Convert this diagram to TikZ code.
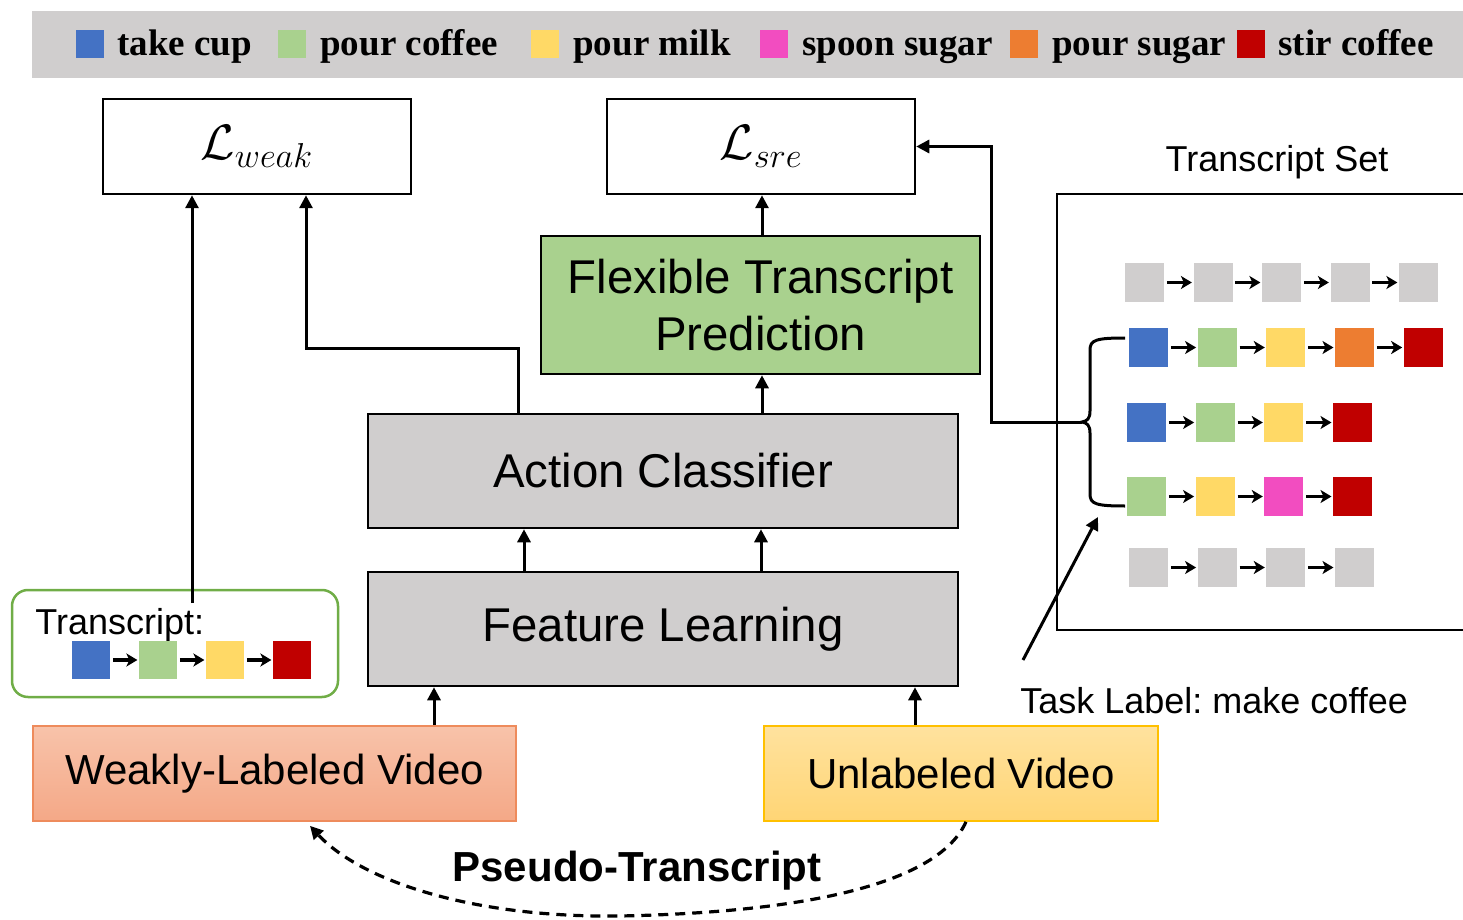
\documentclass[tikz,border=0pt]{standalone}
\usepackage{fontspec}
\setmainfont{Liberation Sans}
\newfontfamily\legendfont{Liberation Serif}
\usetikzlibrary{arrows.meta,calc}
\frenchspacing

\definecolor{boxgray}{HTML}{D0CECE}
\definecolor{actblue}{HTML}{4472C4}
\definecolor{actgreen}{HTML}{A9D18E}
\definecolor{actyellow}{HTML}{FFD966}
\definecolor{actpink}{HTML}{F24DC0}
\definecolor{actorange}{HTML}{ED7D31}
\definecolor{actred}{HTML}{C00000}
\definecolor{frame green}{HTML}{70AD47}
\definecolor{weaktop}{HTML}{F8C3AA}
\definecolor{weakbot}{HTML}{F4A887}
\definecolor{weakline}{HTML}{EE8B5C}
\definecolor{unltop}{HTML}{FFE29E}
\definecolor{unlbot}{HTML}{FFD575}
\definecolor{unlline}{HTML}{FFC000}

% one chain of coloured action squares joined by short arrows
% #1 name prefix, #2 left edge, #3 top edge, #4 pitch, #5 side, #6 colours
\newcommand\seqrow[6]{%
  \foreach \c [count=\i, remember=\i as \p (initially 0)] in {#6} {
    \node[sq, minimum size=#5*0.5pt, fill=\c] (#1\i) at ({#2+#5/2+(\i-1)*#4},{#3+#5/2}) {};
    \ifnum\i>1 \draw[chain] (#1\p) -- (#1\i); \fi
  }}

\begin{document}
\begin{tikzpicture}[x=0.5pt,y=-0.5pt,
  boxed/.style={draw, line width=1.25pt, inner sep=0pt, align=center},
  lossbox/.style={boxed, minimum width=154pt, minimum height=47.5pt,
    font=\fontsize{26}{30}\selectfont},
  stage/.style={boxed, fill=boxgray, minimum width=295pt, minimum height=57pt,
    font=\fontsize{23.7}{28.5}\selectfont},
  video/.style={draw, line width=0.8pt, inner sep=0pt, minimum height=47.5pt,
    font=\fontsize{21}{25}\selectfont},
  flow/.style={line width=1.5pt, -{Triangle[length=6.5pt,width=6.5pt]}},
  chain/.style={line width=1.6pt, shorten <=1.2pt, shorten >=0.6pt,
    -{Stealth[length=5.5pt,width=6.5pt,inset=1.5pt]}},
  sq/.style={draw=none, inner sep=0pt},
  key/.style={draw=none, inner sep=0pt, minimum size=14pt},
  keytext/.style={anchor=base west, inner sep=0pt,
    font=\legendfont\bfseries\fontsize{18.5}{22}\selectfont},
  label/.style={inner sep=0pt, font=\fontsize{18}{22}\selectfont}]

\useasboundingbox (0,0) rectangle (1463,920);

% legend bar
\fill[boxgray] (32,11) rectangle (1463,78);
\node[key, fill=actblue]   (k1) at (90,44) {};
\node[keytext] (kt1) at (117,56) {take cup};
\node[key, fill=actgreen]  (k2) at (292,44) {};
\node[keytext] (kt2) at (320,56) {pour coffee};
\node[key, fill=actyellow] (k3) at (545,44) {};
\node[keytext] (kt3) at (573,56) {pour milk};
\node[key, fill=actpink]   (k4) at (774,44) {};
\node[keytext] (kt4) at (802,56) {spoon sugar};
\node[key, fill=actorange] (k5) at (1024,44) {};
\node[keytext] (kt5) at (1052,56) {pour sugar};
\node[key, fill=actred]    (k6) at (1251,44) {};
\node[keytext] (kt6) at (1278,56) {stir coffee};

% losses
\node[lossbox] (lw) at (257,146.5) {$\mathcal{L}_{weak}$};
\node[lossbox] (ls) at (761,146.5) {$\mathcal{L}_{sre}$};

% network stages
\node[boxed, fill=actgreen, minimum width=219.5pt, minimum height=69pt,
  font=\fontsize{23.7}{28.5}\selectfont] (fp) at (760.5,305)
  {Flexible Transcript\\Prediction};
\node[stage] (ac) at (663,471) {Action Classifier};
\node[stage] (fe) at (663,629) {Feature Learning};

% input videos
\node[video, top color=weaktop, bottom color=weakbot, draw=weakline,
  minimum width=241.5pt] (wv) at (274.5,773.5) {Weakly-Labeled Video};
\node[video, top color=unltop, bottom color=unlbot, draw=unlline,
  minimum width=197pt] (uv) at (961,773.5) {Unlabeled Video};

% ground-truth transcript of the weakly-labeled video
\node[draw=frame green, line width=1.25pt, rounded corners=8pt,
  minimum width=163pt, minimum height=53.5pt] (tb) at (175,643.5) {};
\node[label, anchor=base west] (tl) at (35,634) {Transcript:};
\seqrow{t}{72}{641}{67}{38}{actblue,actgreen,actyellow,actred}

% set of admissible transcripts
\node[label, anchor=base] (sl) at (1277,171) {Transcript Set};
\draw[line width=1.25pt] (1463,194) -- (1057,194) -- (1057,630) -- (1463,630);
\seqrow{a}{1125}{263}{68.5}{39}{boxgray,boxgray,boxgray,boxgray,boxgray}
\seqrow{b}{1129}{328}{68.7}{39}{actblue,actgreen,actyellow,actorange,actred}
\seqrow{c}{1127}{403}{68.7}{39}{actblue,actgreen,actyellow,actred}
\seqrow{d}{1127}{477}{68.7}{39}{actgreen,actyellow,actpink,actred}
\seqrow{e}{1129}{548}{68.7}{39}{boxgray,boxgray,boxgray,boxgray}

% brace grouping the transcripts of the task
\coordinate (btop) at (1125,338);
\coordinate (bbot) at (1125,506);
\coordinate (btip) at (1082,422);
\draw[line width=1.5pt] (btop) .. controls (1096,338) and (1090,340) .. (1090,350)
  -- (1090,411) .. controls (1090,419) and (1087,421) .. (btip)
  .. controls (1087,423) and (1090,425) .. (1090,433)
  -- (1090,494) .. controls (1090,504) and (1096,506) .. (bbot);

% task label selecting the transcripts
\node[label, anchor=base west] (tk) at (1020,713) {Task Label: make coffee};
\coordinate (tkfoot) at (1023,660);
\coordinate (tkhead) at (1098,517);
\draw[flow] (tkfoot) -- (tkhead);

% connectors
\coordinate (tstart) at (192,603);
\draw[flow] (tstart) -- (lw.south -| tstart);

\coordinate (j1) at (518,348);
\coordinate (j2) at (306,348);
\draw[flow] (ac.north -| j1) -- (j1) -- (j2) -- (lw.south -| j2);

\coordinate (xm) at (762,0);
\draw[flow] (ac.north -| xm) -- (fp.south -| xm);
\draw[flow] (fp.north -| xm) -- (ls.south -| xm);

\coordinate (xa) at (524,0);
\coordinate (xb) at (761,0);
\draw[flow] (fe.north -| xa) -- (ac.south -| xa);
\draw[flow] (fe.north -| xb) -- (ac.south -| xb);

\coordinate (xw) at (434,0);
\coordinate (xu) at (915,0);
\draw[flow] (wv.north -| xw) -- (fe.south -| xw);
\draw[flow] (uv.north -| xu) -- (fe.south -| xu);

\coordinate (bend) at (991,422);
\draw[flow] (btip) -- (bend) |- (ls.east);

% pseudo-transcript feedback
\coordinate (ps) at (966,0);
\coordinate (pe) at (310,0);
\draw[flow, line width=1.6pt, dash pattern=on 5pt off 3.5pt]
  (uv.south -| ps) .. controls (940,880) and (820,912) .. (620,916)
  .. controls (470,918) and (360,880) .. ([yshift=-2pt]wv.south -| pe);
\node[inner sep=0pt, font=\bfseries\fontsize{21}{25}\selectfont] (pl) at (637,871)
  {Pseudo-Transcript};

\end{tikzpicture}
\end{document}
